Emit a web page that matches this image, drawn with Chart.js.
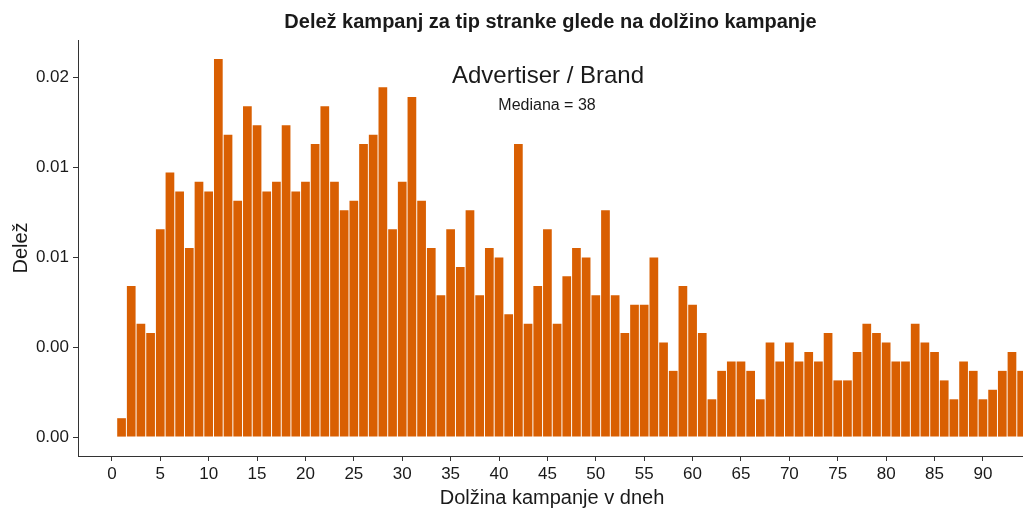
<!DOCTYPE html>
<html>
<head>
<meta charset="utf-8">
<script src="https://cdn.jsdelivr.net/npm/chart.js@4"></script>
<style>
  html, body { margin: 0; padding: 0; background: #fff; }
  #wrap { width: 1023px; height: 508px; }
</style>
</head>
<body>
<div id="wrap"><canvas id="chart" width="1023" height="508"></canvas></div>
<script>
// campaign length in days and share of campaigns
const days = [1, 2, 3, 4, 5, 6, 7, 8, 9, 10, 11, 12, 13, 14, 15, 16, 17, 18, 19, 20,
  21, 22, 23, 24, 25, 26, 27, 28, 29, 30, 31, 32, 33, 34, 35, 36, 37, 38, 39, 40,
  41, 42, 43, 44, 45, 46, 47, 48, 49, 50, 51, 52, 53, 54, 55, 56, 57, 58, 59, 60,
  61, 62, 63, 64, 65, 66, 67, 68, 69, 70, 71, 72, 73, 74, 75, 76, 77, 78, 79, 80,
  81, 82, 83, 84, 85, 86, 87, 88, 89, 90, 91, 92, 93, 94];

const shares = [0.00105, 0.0084, 0.0063, 0.00578, 0.01155, 0.0147, 0.01365, 0.0105, 0.01418, 0.01365,
  0.021, 0.0168, 0.01313, 0.01838, 0.01733, 0.01365, 0.01418, 0.01733, 0.01365, 0.01418,
  0.01628, 0.01838, 0.01418, 0.0126, 0.01313, 0.01628, 0.0168, 0.01943, 0.01155, 0.01418,
  0.0189, 0.01313, 0.0105, 0.00788, 0.01155, 0.00945, 0.0126, 0.00788, 0.0105, 0.00998,
  0.00683, 0.01628, 0.0063, 0.0084, 0.01155, 0.0063, 0.00893, 0.0105, 0.00998, 0.00788,
  0.0126, 0.00788, 0.00578, 0.00735, 0.00735, 0.00998, 0.00525, 0.00368, 0.0084, 0.00735,
  0.00578, 0.0021, 0.00368, 0.0042, 0.0042, 0.00368, 0.0021, 0.00525, 0.0042, 0.00525,
  0.0042, 0.00473, 0.0042, 0.00578, 0.00315, 0.00315, 0.00473, 0.0063, 0.00578, 0.00525,
  0.0042, 0.0042, 0.0063, 0.00525, 0.00473, 0.00315, 0.0021, 0.0042, 0.00368, 0.0021,
  0.00263, 0.00368, 0.00473, 0.00368];

const xTicks = [0, 5, 10, 15, 20, 25, 30, 35, 40, 45, 50, 55, 60, 65, 70, 75, 80, 85, 90];
const xTickLabels = ['0', '5', '10', '15', '20', '25', '30', '35', '40', '45', '50', '55', '60', '65', '70', '75', '80', '85', '90'];
const yTicks = [0, 0.005, 0.01, 0.015, 0.02];
const yTickLabels = ['0.00', '0.00', '0.01', '0.01', '0.02'];

const FONT = '"Liberation Sans", Arial, Helvetica, sans-serif';
const INK = '#1a1a1a';
const AXIS = '#333333';

// titles and axis names drawn straight on the canvas
const textPlugin = {
  id: 'texts',
  afterDraw(chart) {
    const ctx = chart.ctx;
    const a = chart.chartArea;
    const cx = (a.left + a.right) / 2;
    ctx.save();
    ctx.fillStyle = INK;
    ctx.textAlign = 'center';
    ctx.textBaseline = 'alphabetic';

    ctx.font = 'bold 20px ' + FONT;
    ctx.fillText('Delež kampanj za tip stranke glede na dolžino kampanje', cx, 28);

    ctx.font = '24px ' + FONT;
    ctx.fillText('Advertiser / Brand', 548, 83);

    ctx.font = '16px ' + FONT;
    ctx.fillText('Mediana = 38', 547, 110);

    ctx.font = '20px ' + FONT;
    ctx.fillText('Dolžina kampanje v dneh', 552, 504);

    ctx.translate(27, (a.top + a.bottom) / 2);
    ctx.rotate(-Math.PI / 2);
    ctx.fillText('Delež', 0, 0);
    ctx.restore();
  }
};

const ctx = document.getElementById('chart').getContext('2d');
new Chart(ctx, {
  type: 'bar',
  data: {
    datasets: [{
      data: days.map((d, i) => ({ x: d, y: shares[i] })),
      backgroundColor: '#D95F02',
      borderWidth: 0,
      barPercentage: 0.9,
      categoryPercentage: 1.0
    }]
  },
  options: {
    responsive: false,
    animation: false,
    devicePixelRatio: 1,
    layout: { padding: { top: 40, left: 0, right: 0, bottom: 0 } },
    plugins: {
      legend: { display: false },
      tooltip: { enabled: false },
      title: { display: false }
    },
    scales: {
      x: {
        type: 'linear',
        offset: false,
        min: -3.5,
        max: 94.14,
        afterBuildTicks: s => { s.ticks = xTicks.map(v => ({ value: v })); },
        afterFit: s => { s.height = 52; },
        ticks: {
          callback: (v, i) => xTickLabels[i],
          font: { family: FONT, size: 17 },
          color: INK,
          padding: 3,
          maxRotation: 0,
          autoSkip: false
        },
        grid: { offset: false, drawOnChartArea: false, drawTicks: true, tickLength: 5, color: AXIS, lineWidth: 1 },
        border: { display: true, color: AXIS, width: 1 }
      },
      y: {
        type: 'linear',
        min: -0.00105,
        max: 0.02206,
        afterBuildTicks: s => { s.ticks = yTicks.map(v => ({ value: v })); },
        afterFit: s => { s.width = 78; },
        ticks: {
          callback: (v, i) => yTickLabels[i],
          font: { family: FONT, size: 17 },
          color: INK,
          padding: 4,
          autoSkip: false
        },
        grid: { drawOnChartArea: false, drawTicks: true, tickLength: 5, color: AXIS, lineWidth: 1 },
        border: { display: true, color: AXIS, width: 1 }
      }
    }
  },
  plugins: [textPlugin]
});
</script>
</body>
</html>
